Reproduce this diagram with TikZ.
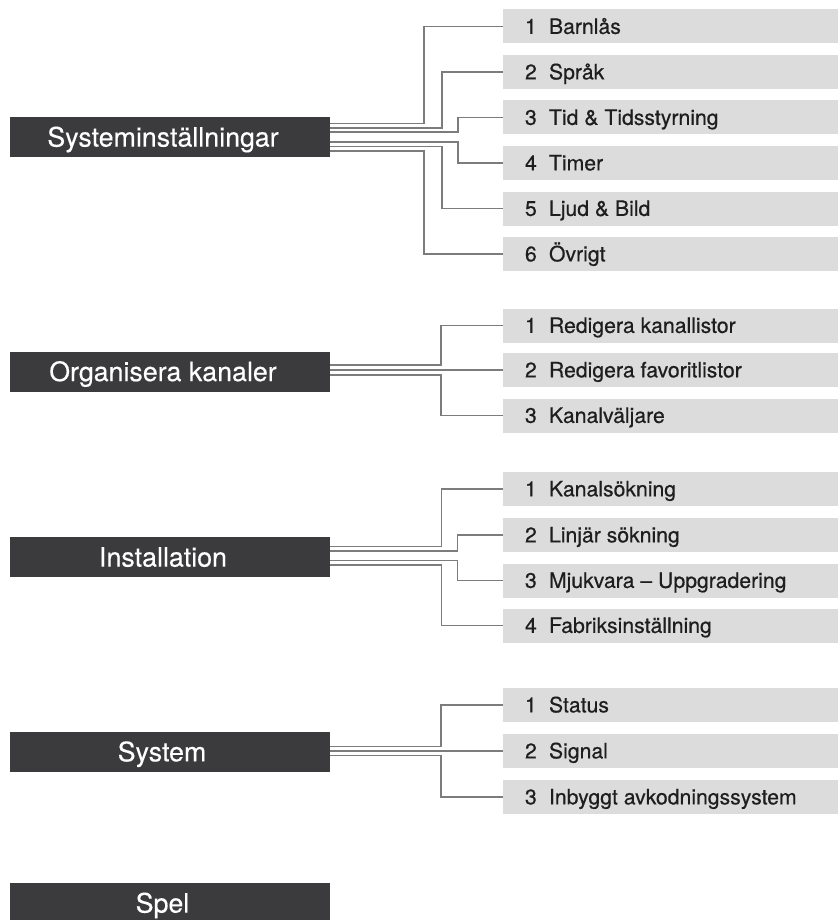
\documentclass[tikz,border=0pt]{standalone}
\usepackage{fontspec}
\setmainfont{TeX Gyre Heros}
\newfontfamily\itemfont[FakeBold=0.5]{TeX Gyre Heros}
\newfontfamily\titlefont[FakeBold=0.3]{TeX Gyre Heros}
\definecolor{titlefill}{HTML}{3B3A3C}
\definecolor{itemfill}{HTML}{DCDCDC}
\definecolor{itemtext}{HTML}{1E1E1E}
\definecolor{linecol}{HTML}{7C7C7C}
\tikzset{
  titlebox/.style={fill=titlefill, draw=none, minimum width=320pt, minimum height=40pt, inner sep=0pt},
  titletext/.style={anchor=base, text=white, inner sep=0pt, font=\titlefont\fontsize{26.8}{30}\selectfont},
  itembox/.style={fill=itemfill, draw=none, minimum width=335pt, minimum height=34pt, inner sep=0pt},
  itemtext/.style={anchor=base west, text=itemtext, inner sep=0pt, font=\itemfont\fontsize{21.2}{24}\selectfont},
  conn/.style={draw=linecol, line width=1.2pt}
}
\newcommand{\itemlabel}[3]{%
  \node[itemtext] at ([xshift=22pt,yshift=-7.4pt]#1.west) {#2};
  \node[itemtext] at ([xshift=46pt,yshift=-7.4pt]#1.west) {#3};
}
\begin{document}
\begin{tikzpicture}[x=1pt,y=-1pt]
\useasboundingbox (0,0) rectangle (838,920);
\fill[white] (0,0) rectangle (838,920);

% ---------- Group 1: Systeminställningar
\node[titlebox] (S) at (170,137) {};
\node[titletext] at ([xshift=-7pt,yshift=-9.6pt]S.center) {Systeminställningar};
\node[itembox] (I11) at (670.5,26.5) {};
\node[itembox] (I12) at (670.5,72) {};
\node[itembox] (I13) at (670.5,117.5) {};
\node[itembox] (I14) at (670.5,163) {};
\node[itembox] (I15) at (670.5,208.5) {};
\node[itembox] (I16) at (670.5,254) {};
\itemlabel{I11}{1}{Barnlås}
\itemlabel{I12}{2}{Språk}
\itemlabel{I13}{3}{Tid \& Tidsstyrning}
\itemlabel{I14}{4}{Timer}
\itemlabel{I15}{5}{Ljud \& Bild}
\itemlabel{I16}{6}{Övrigt}
\draw[conn] (S.east |- 0,123.5) -| (424,0 |- I11.west) -- (I11.west);
\draw[conn] (S.east |- 0,128)   -| (442,0 |- I12.west) -- (I12.west);
\draw[conn] (S.east |- 0,132)   -| (458,0 |- I13.west) -- (I13.west);
\draw[conn] (S.east |- 0,142)   -| (458,0 |- I14.west) -- (I14.west);
\draw[conn] (S.east |- 0,146.5) -| (442,0 |- I15.west) -- (I15.west);
\draw[conn] (S.east |- 0,151)   -| (424,0 |- I16.west) -- (I16.west);

% ---------- Group 2: Organisera kanaler
\node[titlebox] (O) at (170,371.5) {};
\node[titletext] at ([xshift=-7pt,yshift=-9.6pt]O.center) {Organisera kanaler};
\node[itembox] (I21) at (670.5,325.5) {};
\node[itembox] (I22) at (670.5,370) {};
\node[itembox] (I23) at (670.5,415.5) {};
\itemlabel{I21}{1}{Redigera kanallistor}
\itemlabel{I22}{2}{Redigera favoritlistor}
\itemlabel{I23}{3}{Kanalväljare}
\draw[conn] (O.east |- 0,365) -| (441,0 |- I21.west) -- (I21.west);
\draw[conn] (O.east |- I22.west) -- (I22.west);
\draw[conn] (O.east |- 0,375) -| (441,0 |- I23.west) -- (I23.west);

% ---------- Group 3: Installation
\node[titlebox] (N) at (170,557) {};
\node[titletext] at ([xshift=-7pt,yshift=-9.6pt]N.center) {Installation};
\node[itembox] (I31) at (670.5,489) {};
\node[itembox] (I32) at (670.5,535) {};
\node[itembox] (I33) at (670.5,580.5) {};
\node[itembox] (I34) at (670.5,625.5) {};
\itemlabel{I31}{1}{Kanalsökning}
\itemlabel{I32}{2}{Linjär sökning}
\itemlabel{I33}{3}{Mjukvara – Uppgradering}
\itemlabel{I34}{4}{Fabriksinställning}
\draw[conn] (N.east |- 0,546.5) -| (441.7,0 |- I31.west) -- (I31.west);
\draw[conn] (N.east |- 0,551)   -| (457.7,0 |- I32.west) -- (I32.west);
\draw[conn] (N.east |- 0,560.5) -| (457.7,0 |- I33.west) -- (I33.west);
\draw[conn] (N.east |- 0,565)   -| (441.7,0 |- I34.west) -- (I34.west);

% ---------- Group 4: System
\node[titlebox] (Y) at (170,751.7) {};
\node[titletext] at ([xshift=-8pt,yshift=-9.6pt]Y.center) {System};
\node[itembox] (I41) at (670.5,705) {};
\node[itembox] (I42) at (670.5,751) {};
\node[itembox] (I43) at (670.5,797) {};
\itemlabel{I41}{1}{Status}
\itemlabel{I42}{2}{Signal}
\itemlabel{I43}{3}{Inbyggt avkodningssystem}
\draw[conn] (Y.east |- 0,746.5) -| (441,0 |- I41.west) -- (I41.west);
\draw[conn] (Y.east |- I42.west) -- (I42.west);
\draw[conn] (Y.east |- 0,755.5) -| (441,0 |- I43.west) -- (I43.west);

% ---------- Group 5: Spel
\node[titlebox] (P) at (170,903) {};
\node[titletext] at ([xshift=-7.5pt,yshift=-9.6pt]P.center) {Spel};
\end{tikzpicture}
\end{document}
